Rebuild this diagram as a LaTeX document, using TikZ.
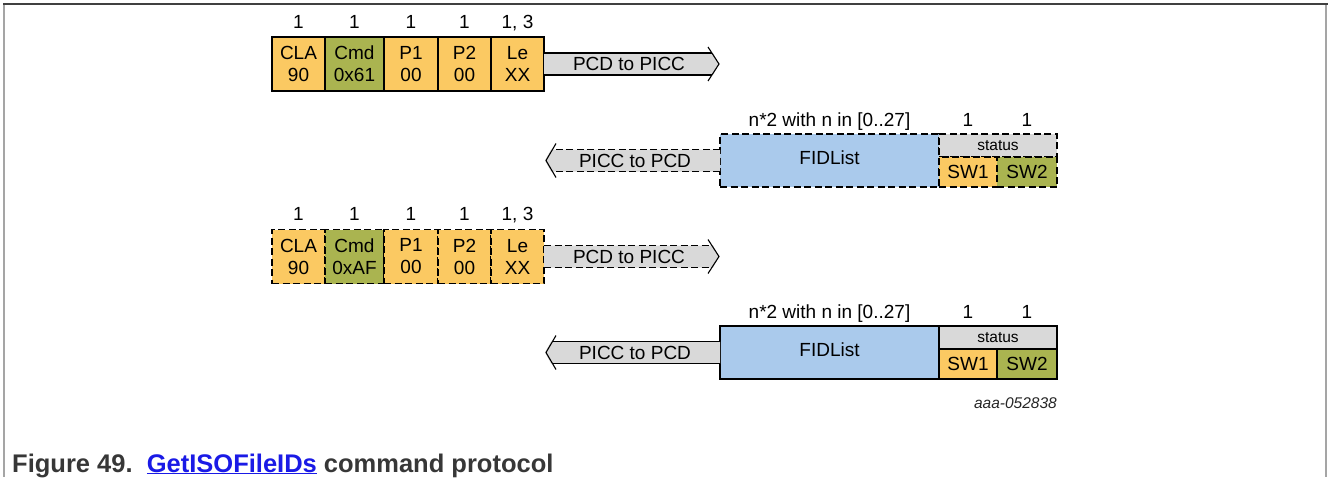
\documentclass[tikz,border=0pt]{standalone}
\usepackage{fontspec}
\setmainfont{Liberation Sans}
\usetikzlibrary{calc}
\definecolor{fo}{RGB}{251,201,98}
\definecolor{fg}{RGB}{170,180,80}
\definecolor{fb}{RGB}{170,202,236}
\definecolor{fgr}{RGB}{217,217,217}
\definecolor{frameDark}{RGB}{64,64,64}
\definecolor{frameLight}{RGB}{165,165,165}
\definecolor{linkblue}{RGB}{26,26,230}
\definecolor{captxt}{RGB}{55,55,55}
\tikzset{
  mfont/.style={font=\fontsize{19}{22}\selectfont},
  field/.style={draw, line width=1.4pt, inner sep=0pt, outer sep=0pt, align=center, minimum height=54, mfont, text=black},
  dfield/.style={field, line width=1.6pt, dash pattern=on 7pt off 3.5pt},
  cnt/.style={mfont, inner sep=0pt, anchor=base},
  body/.style={line width=1.4pt},
  dbody/.style={line width=1.6pt, dash pattern=on 7pt off 3.5pt},
  chev/.style={line width=1.1pt},
  stat/.style={draw, line width=1.4pt, inner sep=0pt, outer sep=0pt, minimum height=23, fill=fgr, font=\fontsize{15.5}{18}\selectfont},
  dstat/.style={stat, line width=1.6pt, dash pattern=on 7pt off 3.5pt},
  sw/.style={field, minimum height=30},
  dsw/.style={dfield, minimum height=30},
}
\begin{document}
\begin{tikzpicture}[x=1pt,y=-1pt]
\useasboundingbox (0,0) rectangle (1328,477);
\fill[white] (0,0) rectangle (1328,477);
% frame
\draw[frameDark, line width=2pt] (3,4) -- (1328,4);
\draw[frameLight, line width=2pt] (4,5) -- (4,477);
\draw[frameLight, line width=2pt] (1326,5) -- (1326,477);

% ---------- Row 1 ----------
\node[field, fill=fo, minimum width=53] (cla1) at (298.5,64) {CLA\\90};
\node[field, fill=fg, minimum width=59] (cmd1) at (354.5,64) {Cmd\\0x61};
\node[field, fill=fo, minimum width=54] (p11) at (411,64) {P1\\00};
\node[field, fill=fo, minimum width=53] (p21) at (464.5,64) {P2\\00};
\node[field, fill=fo, minimum width=53] (le1) at (517.5,64) {Le\\XX};
\foreach \n/\t in {cla1/1,cmd1/1,p11/1,p21/1,le1/{1, 3}}
  \node[cnt] at ($(\n.north)+(0,-9)$) {\t};
\fill[fgr] ($(le1.east)+(0,-11)$) -- ++(169,0) -- ++(6,11) -- ++(-6,11) -- ($(le1.east)+(0,11)$) -- cycle;
\draw[body] ($(le1.east)+(0,-11)$) -- ++(168,0);
\draw[body] ($(le1.east)+(0,11)$) -- ++(168,0);
\draw[chev] ($(le1.east)+(164,-17)$) -- ($(le1.east)+(175,0)$) -- ($(le1.east)+(164,17)$);
\node[mfont, inner sep=0pt] (t1) at ($(le1.east)+(85,0)$) {PCD to PICC};

% ---------- Row 2 ----------
\node[field, dash pattern=on 7pt off 3.5pt, line width=1.6pt, fill=fb, minimum width=219, minimum height=53] (fid2) at (829.5,160.5) {};
\node[mfont, inner sep=0pt] at ($(fid2.center)+(0,-3)$) {FIDList};
\node[dstat, minimum width=118, anchor=north west] (st2) at (fid2.north east) {status};
\node[dsw, fill=fo, minimum width=58, anchor=north west] (sw12) at (st2.south west) {SW1};
\node[dsw, fill=fg, minimum width=60, anchor=north west] (sw22) at (sw12.north east) {SW2};
\node[cnt] at ($(fid2.north)+(0,-8)$) {n*2 with n in [0..27]};
\node[cnt] at ($(sw12.north |- fid2.north)+(0,-8)$) {1};
\node[cnt] at ($(sw22.north |- fid2.north)+(0,-8)$) {1};
\fill[fgr] ($(fid2.west)+(0,-11)$) -- ++(-169,0) -- ++(-6,11) -- ++(6,11) -- ($(fid2.west)+(0,11)$) -- cycle;
\draw[dbody] ($(fid2.west)+(0,-11)$) -- ++(-168,0);
\draw[dbody] ($(fid2.west)+(0,11)$) -- ++(-168,0);
\draw[chev] ($(fid2.west)+(-164,-17)$) -- ($(fid2.west)+(-174,0)$) -- ($(fid2.west)+(-164,17)$);
\node[mfont, inner sep=0pt] (t2) at ($(fid2.west)+(-85,0)$) {PICC to PCD};

% ---------- Row 3 ----------
\node[dfield, fill=fo, minimum width=53] (cla3) at (298.5,256.5) {CLA\\90};
\node[dfield, fill=fg, minimum width=59] (cmd3) at (354.5,256.5) {Cmd\\0xAF};
\node[dfield, fill=fo, minimum width=54] (p13) at (411,256.5) {P1\\00};
\node[dfield, fill=fo, minimum width=53] (p23) at (464.5,256.5) {P2\\00};
\node[dfield, fill=fo, minimum width=53] (le3) at (517.5,256.5) {Le\\XX};
\foreach \n/\t in {cla3/1,cmd3/1,p13/1,p23/1,le3/{1, 3}}
  \node[cnt] at ($(\n.north)+(0,-9)$) {\t};
\fill[fgr] ($(le3.east)+(0,-11)$) -- ++(169,0) -- ++(6,11) -- ++(-6,11) -- ($(le3.east)+(0,11)$) -- cycle;
\draw[dbody] ($(le3.east)+(0,-11)$) -- ++(168,0);
\draw[dbody] ($(le3.east)+(0,11)$) -- ++(168,0);
\draw[chev] ($(le3.east)+(164,-17)$) -- ($(le3.east)+(175,0)$) -- ($(le3.east)+(164,17)$);
\node[mfont, inner sep=0pt] (t3) at ($(le3.east)+(85,0)$) {PCD to PICC};

% ---------- Row 4 ----------
\node[field, fill=fb, minimum width=219, minimum height=53] (fid4) at (829.5,352.5) {};
\node[mfont, inner sep=0pt] at ($(fid4.center)+(0,-3)$) {FIDList};
\node[stat, minimum width=118, anchor=north west] (st4) at (fid4.north east) {status};
\node[sw, fill=fo, minimum width=58, anchor=north west] (sw14) at (st4.south west) {SW1};
\node[sw, fill=fg, minimum width=60, anchor=north west] (sw24) at (sw14.north east) {SW2};
\node[cnt] at ($(fid4.north)+(0,-8)$) {n*2 with n in [0..27]};
\node[cnt] at ($(sw14.north |- fid4.north)+(0,-8)$) {1};
\node[cnt] at ($(sw24.north |- fid4.north)+(0,-8)$) {1};
\fill[fgr] ($(fid4.west)+(0,-11)$) -- ++(-169,0) -- ++(-6,11) -- ++(6,11) -- ($(fid4.west)+(0,11)$) -- cycle;
\draw[body] ($(fid4.west)+(0,-11)$) -- ++(-168,0);
\draw[body] ($(fid4.west)+(0,11)$) -- ++(-168,0);
\draw[chev] ($(fid4.west)+(-164,-17)$) -- ($(fid4.west)+(-174,0)$) -- ($(fid4.west)+(-164,17)$);
\node[mfont, inner sep=0pt] (t4) at ($(fid4.west)+(-85,0)$) {PICC to PCD};

% id
\node[font=\itshape\fontsize{15.5}{17}\selectfont, inner sep=0pt, anchor=base east, text=black!85] (id) at (1057,408) {aaa-052838};

% caption
\node[font=\bfseries\fontsize{25.5}{28}\selectfont, text=captxt, inner sep=0pt, anchor=base west] (cap) at (12,472)
  {Figure 49.\ \ \textcolor{linkblue}{\underline{GetISOFileIDs}} command protocol};
\end{tikzpicture}
\end{document}
